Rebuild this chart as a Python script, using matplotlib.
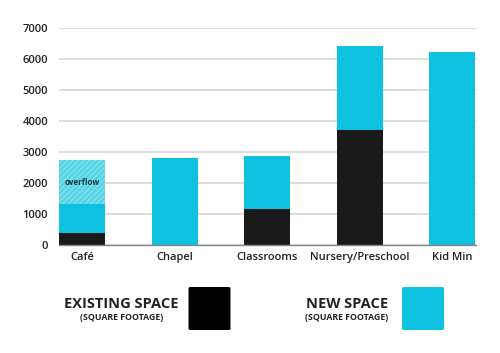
import numpy as np
import matplotlib
matplotlib.use("Agg")
import matplotlib.pyplot as plt
from matplotlib.patches import FancyBboxPatch

plt.rcParams['font.family'] = ['Open Sans', 'DejaVu Sans']

categories = ["Café", "Chapel", "Classrooms", "Nursery/Preschool", "Kid Min"]
existing = [370, 0, 1170, 3690, 0]
new_space = [940, 2790, 1695, 2705, 6200]
overflow = [1430, 0, 0, 0, 0]
yticks = [0, 1000, 2000, 3000, 4000, 5000, 6000, 7000]

black = '#1a1a1a'
cyan = '#0fc1e0'

fig = plt.figure(figsize=(5, 3.53), dpi=100)
ax = fig.add_axes([0.118, 0.306, 0.833, 0.616])

x = np.arange(len(categories))
w = 0.5
ex = np.array(existing)
nw = np.array(new_space)
ov = np.array(overflow)

ax.bar(x, ex, w, color=black, linewidth=0, zorder=3)
ax.bar(x, nw, w, bottom=ex, color=cyan, linewidth=0, zorder=3)
plt.rcParams['hatch.linewidth'] = 1.0
ax.bar(x, ov, w, bottom=ex + nw, color='#55d4e6', edgecolor='#80e1ed',
       hatch='//////', linewidth=0, zorder=3)
for i in range(len(categories)):
    if ov[i] > 0:
        ax.text(x[i], ex[i] + nw[i] + ov[i] * 0.48, 'overflow', ha='center', va='center',
                fontsize=5.8, fontweight='bold', color='#1a3a40', zorder=4)

ax.set_xlim(-0.25, 4.25)
ax.set_ylim(0, 7000)
ax.set_yticks(yticks)
ax.set_xticks(x)
ax.set_xticklabels(categories)
ax.grid(axis='y', color='#d6d6d6', linewidth=1.2, zorder=0)
ax.tick_params(axis='both', length=0, labelsize=8, colors='#222222')
ax.tick_params(axis='y', pad=8)
ax.tick_params(axis='x', pad=5)
for lab in ax.get_xticklabels() + ax.get_yticklabels():
    lab.set_fontweight('semibold')
for s in ['top', 'right', 'left']:
    ax.spines[s].set_visible(False)
ax.spines['bottom'].set_color('#888888')
ax.spines['bottom'].set_linewidth(1)
ax.spines['bottom'].set_zorder(5)

# legend
W, H = 500, 353
legend_items = [("EXISTING SPACE", 121.5, 188.5, '#000000'),
                ("NEW SPACE", 347, 402, cyan)]
for label, cx, sx, col in legend_items:
    fig.text(cx / W, 1 - 303.5 / H, label, ha='center', va='center',
             fontsize=10.5, fontweight='bold', color='#222222')
    fig.text(cx / W, 1 - 318 / H, '(SQUARE FOOTAGE)', ha='center', va='center',
             fontsize=6.3, fontweight='bold', color='#222222')
    box = FancyBboxPatch((sx / W, 1 - 330 / H), 42 / W, 43 / H,
                         boxstyle='round,pad=0,rounding_size=0.004',
                         transform=fig.transFigure, facecolor=col, edgecolor='none')
    fig.patches.append(box)

fig.savefig('out.png', dpi=100)
